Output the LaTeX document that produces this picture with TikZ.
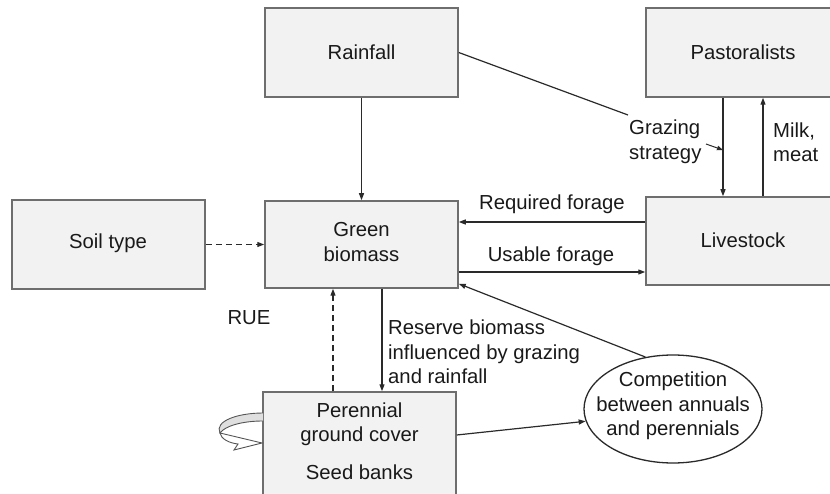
\documentclass[tikz,border=0pt]{standalone}
\usepackage{fontspec}
\setmainfont{Liberation Sans}
\usetikzlibrary{arrows.meta,shapes.geometric}
\definecolor{boxfill}{HTML}{F2F2F2}
\definecolor{boxline}{HTML}{6E6E6E}
\definecolor{conn}{HTML}{2A2A2A}
\tikzset{
  box/.style={draw=boxline, fill=boxfill, line width=1.5pt, inner sep=0pt},
  txt/.style={font=\fontsize{20.3}{24.5}\selectfont, text=black!90, inner sep=0pt, align=center},
  arr/.style={draw=conn, line width=1.2pt, -{Triangle[length=7pt,width=5pt]}},
  ln/.style={draw=conn, line width=1.2pt},
  dsh/.style={arr, dash pattern=on 6pt off 4pt},
}
\begin{document}
\begin{tikzpicture}[x=1pt,y=-1pt]
\useasboundingbox (0,0) rectangle (830,494);
% boxes
\node[box, minimum width=193pt, minimum height=89pt] (soil) at (108.5,244.5) {};
\node[box, minimum width=193pt, minimum height=87pt] (green) at (361.5,244.5) {};
\node[box, minimum width=193pt, minimum height=89pt] (rain) at (361.5,52.5) {};
\node[box, minimum width=194pt, minimum height=89pt] (past) at (743,52.5) {};
\node[box, minimum width=194pt, minimum height=88pt] (live) at (743,241) {};
\node[box, minimum width=193pt, minimum height=106pt] (peren) at (359.5,445) {};
\node[draw=conn, fill=white, line width=1.3pt, ellipse, minimum width=178pt, minimum height=108pt, inner sep=0pt] (comp) at (673,409) {};
% box texts
\node[txt] (tsoil) at (108,243) {Soil type};
\node[txt] (tgreen) at (361.5,242) {Green\\biomass};
\node[txt] (train) at (361.5,52) {Rainfall};
\node[txt] (tpast) at (743,52) {Pastoralists};
\node[txt] (tlive) at (743,240) {Livestock};
\node[txt] (tper) at (359.5,424) {Perennial\\ground cover};
\node[txt] (tseed) at (359.5,472) {Seed banks};
\node[txt] (tcomp) at (673,406) {Competition\\between annuals\\and perennials};
% labels
\node[txt] (lreq) at (552,204) {Required forage};
\node[txt] (luse) at (551,256) {Usable forage};
\node[txt, align=left, anchor=west] (lgraz) at (629,142) {Grazing\\strategy};
\node[txt, align=left, anchor=west] (lmilk) at (773,142) {Milk,\\meat};
\node[txt] (lrue) at (249,318) {RUE};
\node[txt, align=left, anchor=west] (lres) at (388,352) {Reserve biomass\\influenced by grazing\\and rainfall};
% connectors
\draw[arr] (rain.south) -- (green.north);
\draw[dsh] (soil.east) -- (green.west);
\draw[arr] ([yshift=19pt]live.west) -- ([yshift=19pt]live.west -| green.east);
\draw[arr] ([yshift=-27.5pt]green.east) -- ([yshift=-27.5pt]green.east -| live.west);
\draw[arr] ([xshift=-20pt]past.south) -- ([xshift=-20pt]live.north);
\draw[arr] ([xshift=20pt]live.north) -- ([xshift=20pt]past.south);
\coordinate (gz) at (628,115);
\draw[ln] (rain.east) -- (gz);
\coordinate (gs) at (706,144);
\coordinate (gse) at (723,150);
\draw[draw=conn, line width=1pt, -{Triangle[length=6pt,width=4.5pt]}] (gs) -- (gse);
\draw[arr] ([xshift=20.5pt]green.south) -- ([xshift=20.5pt]green.south |- peren.north);
\draw[dsh] ([xshift=-26.5pt]peren.north) -- ([xshift=-26.5pt]peren.north |- green.south);
\draw[arr] ([yshift=10pt]peren.east) -- (comp.188);
\draw[arr] (comp.118) -- ([yshift=5pt]green.south east);
% self loop
\filldraw[fill=gray!25, draw=conn!80, line width=0.9pt] (263,413) .. controls (238,413) and (214,421) .. (220,433) .. controls (225,426) and (242,421) .. (263,421);
\filldraw[fill=white, draw=conn!80, line width=0.9pt] (220,433) -- (262,443) -- (234,450) -- (238,444) .. controls (229,443) and (221,439) .. (220,433) -- cycle;
\end{tikzpicture}
\end{document}
